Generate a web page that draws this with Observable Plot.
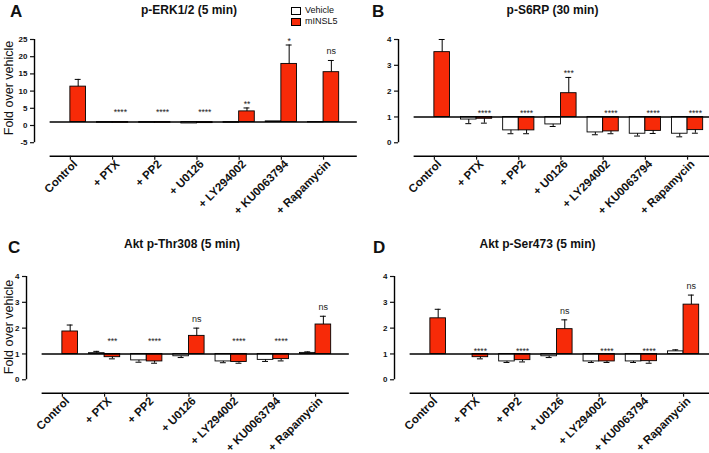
<!DOCTYPE html>
<html><head><meta charset="utf-8">
<script src="https://cdn.jsdelivr.net/npm/d3@7"></script>
<script src="https://cdn.jsdelivr.net/npm/@observablehq/plot@0.6"></script>
<style>
body{margin:0;background:#fff;}
#wrap{position:relative;width:709px;height:453px;overflow:hidden;font-family:"Liberation Sans",Arial,sans-serif;color:#111;}
.panel{position:absolute;}
.letter{position:absolute;font-weight:bold;font-size:17px;line-height:1;}
.title{position:absolute;font-weight:bold;font-size:12px;line-height:1;transform:translateX(-50%);white-space:nowrap;}
.ylab{position:absolute;font-size:12.5px;line-height:1;white-space:nowrap;transform:translate(-50%,-50%) rotate(-90deg);}
.leg{position:absolute;font-size:9px;line-height:1;display:flex;align-items:center;gap:4px;}
.sw{width:8px;height:6px;border:1px solid #000;}
</style></head>
<body><div id="wrap"></div>
<script>
const groups = ["Control","+ PTX","+ PP2","+ U0126","+ LY294002","+ KU0063794","+ Rapamycin"];
const series = ["Vehicle","mINSL5"];

// Panel A: p-ERK1/2 (5 min)
const vehA    = [1, 0.8, 0.8, 0.6, 0.8, 1.2, 0.9];
const vehAErr = [0, 0, 0, 0, 0, 0, 0];
const insA    = [11.3, 0.8, 0.8, 0.7, 4.1, 17.9, 15.5];
const insAErr = [2.1, 0, 0, 0, 1.0, 5.5, 3.4];
const sigA    = ["", "****", "****", "****", "**", "*", "ns"];
const ticksA  = [-5, 0, 5, 10, 15, 20, 25];

// Panel B: p-S6RP (30 min)
const vehB    = [1, 0.90, 0.48, 0.71, 0.40, 0.35, 0.35];
const vehBErr = [0, 0.16, 0.13, 0.08, 0.09, 0.09, 0.12];
const insB    = [3.51, 0.93, 0.48, 1.92, 0.44, 0.46, 0.49];
const insBErr = [0.49, 0.17, 0.13, 0.61, 0.09, 0.10, 0.12];
const sigB    = ["", "****", "****", "***", "****", "****", "****"];
const ticksB  = [0, 1, 2, 3, 4];

// Panel C: Akt p-Thr308 (5 min)
const vehC    = [1, 1.03, 0.75, 0.91, 0.71, 0.77, 1.04];
const vehCErr = [0, 0.07, 0.07, 0.05, 0.05, 0.06, 0.04];
const insC    = [1.87, 0.875, 0.71, 1.70, 0.69, 0.80, 2.14];
const insCErr = [0.25, 0.065, 0.07, 0.30, 0.05, 0.07, 0.32];
const sigC    = ["", "***", "****", "ns", "****", "****", "ns"];
const ticksC  = [0, 1, 2, 3, 4];

// Panel D: Akt p-Ser473 (5 min)
const vehD    = [1, 1.0, 0.71, 0.91, 0.71, 0.71, 1.10];
const vehDErr = [0, 0.13, 0.04, 0.05, 0.04, 0.04, 0.06];
const insD    = [2.38, 0.875, 0.76, 1.96, 0.71, 0.72, 2.91];
const insDErr = [0.35, 0.065, 0.07, 0.36, 0.04, 0.08, 0.37];
const sigD    = ["", "****", "****", "ns", "****", "****", "ns"];
const ticksD  = [0, 1, 2, 3, 4];

const RED = "#f72a08";
const FONT = "Liberation Sans, Arial, sans-serif";
const BW = 0.37;          // bar width in group units
const CAP = 0.07;         // error cap half width
const XDOM = [-0.85, 6.8];
const BASEX = [-0.48, 6.8];
const UNIT = 42.2;
const H = 216, TOP = 39, BOT = 155.7;

function panel(veh, vehErr, ins, insErr, sig, ticks, yMin, marginLeft, starLift) {
  const bars = [];
  groups.forEach((g, i) => {
    bars.push({i, s: series[0], x1: i - BW, x2: i, v: veh[i], e: vehErr[i]});
    bars.push({i, s: series[1], x1: i, x2: i + BW, v: ins[i], e: insErr[i]});
  });
  const vis = bars.filter(d => d.v !== 1);
  const errs = vis.filter(d => d.e > 0).map(d => ({...d, c: (d.x1 + d.x2) / 2, end: d.v >= 1 ? d.v + d.e : d.v - d.e}));
  const sigs = groups.map((g, i) => ({i, c: i + BW / 2, t: sig[i], up: ins[i] > 1.2, y: ins[i] > 1.2 ? ins[i] + insErr[i] : 1})).filter(d => d.t);
  const width = marginLeft + (XDOM[1] - XDOM[0]) * UNIT;
  const starText = {x: "c", y: "y", text: "t", lineAnchor: "bottom", fontSize: 8.5, fill: "#222"};
  return Plot.plot({
    width, height: H,
    marginLeft, marginRight: 0, marginTop: TOP, marginBottom: H - BOT,
    style: {fontFamily: FONT, background: "transparent", overflow: "visible", maxWidth: "none", color: "#111"},
    x: {type: "linear", domain: XDOM},
    y: {domain: [yMin, ticks[ticks.length - 1]]},
    marks: [
      Plot.rect(vis.filter(d => d.s === series[0]), {x1: "x1", x2: "x2", y1: 1, y2: "v", fill: "white", stroke: "black", strokeWidth: 0.9}),
      Plot.rect(vis.filter(d => d.s === series[1]), {x1: "x1", x2: "x2", y1: 1, y2: "v", fill: RED, stroke: "black", strokeWidth: 0.9}),
      Plot.ruleX(errs, {x: "c", y1: "v", y2: "end", stroke: "black", strokeWidth: 1}),
      Plot.ruleY(errs, {y: "end", x1: d => d.c - CAP, x2: d => d.c + CAP, stroke: "black", strokeWidth: 1}),
      Plot.ruleY([1], {x1: BASEX[0], x2: BASEX[1], stroke: "black", strokeWidth: 1.4}),
      Plot.ruleY([yMin], {x1: BASEX[0], x2: BASEX[1], stroke: "black", strokeWidth: 1.4}),
      Plot.ruleX([XDOM[0]], {y1: ticks[0], y2: ticks[ticks.length - 1], stroke: "black", strokeWidth: 1.4}),
      Plot.axisY({ticks, tickSize: 4, tickPadding: 3, tickFormat: d => String(d), fontSize: 8, fontWeight: "bold", label: null, strokeWidth: 1.2}),
      Plot.axisX({ticks: d3.range(groups.length), tickFormat: () => "", tickSize: 4, label: null, strokeWidth: 1.2}),
      Plot.axisX({ticks: d3.range(groups.length), tickFormat: i => groups[i], tickRotate: -45, tickSize: 0, tickPadding: 5, dx: 5, dy: 1, fontSize: 11.5, fontWeight: "bold", label: null}),
      Plot.text(sigs.filter(d => d.t !== "ns" && d.up), {...starText, dy: -1}),
      Plot.text(sigs.filter(d => d.t !== "ns" && !d.up), {...starText, dy: -starLift}),
      Plot.text(sigs.filter(d => d.t === "ns"), {x: "c", y: "y", text: "t", lineAnchor: "bottom", dy: -6, fontSize: 9, fill: "#222"})
    ]
  });
}

const wrap = document.getElementById("wrap");
function place(node, left, top) {
  const d = document.createElement("div");
  d.className = "panel";
  d.style.left = left + "px"; d.style.top = top + "px";
  d.appendChild(node); wrap.appendChild(d);
}
function text(cls, txt, left, top) {
  const d = document.createElement("div");
  d.className = cls; d.textContent = txt;
  d.style.left = left + "px"; d.style.top = top + "px";
  wrap.appendChild(d); return d;
}

place(panel(vehA, vehAErr, insA, insAErr, sigA, ticksA, -8.92, 34, 7), 0, 0);
place(panel(vehB, vehBErr, insB, insBErr, sigB, ticksB, -0.52, 43, 1), 355, 0);
place(panel(vehC, vehCErr, insC, insCErr, sigC, ticksC, -0.52, 26, 10), 0, 237);
place(panel(vehD, vehDErr, insD, insDErr, sigD, ticksD, -0.52, 39, 0), 355, 237);

text("letter", "A", 10, 2.6);
text("letter", "B", 372, 2.6);
text("letter", "C", 8, 238.6);
text("letter", "D", 373, 238.6);
text("title", "p-ERK1/2 (5 min)", 189, 3.8);
text("title", "p-S6RP (30 min)", 552.5, 3.8);
text("title", "Akt p-Thr308 (5 min)", 182, 238.4);
text("title", "Akt p-Ser473 (5 min)", 537.5, 238.4);
text("ylab", "Fold over vehicle", 9, 88);
text("ylab", "Fold over vehicle", 9, 327);

[[series[0], "white", 6], [series[1], RED, 17]].forEach(([lab, col, top]) => {
  const d = document.createElement("div");
  d.className = "leg"; d.style.left = "291px"; d.style.top = top + "px";
  const sw = document.createElement("div"); sw.className = "sw"; sw.style.background = col;
  const t = document.createElement("span"); t.textContent = lab;
  d.appendChild(sw); d.appendChild(t); wrap.appendChild(d);
});
</script></body></html>
